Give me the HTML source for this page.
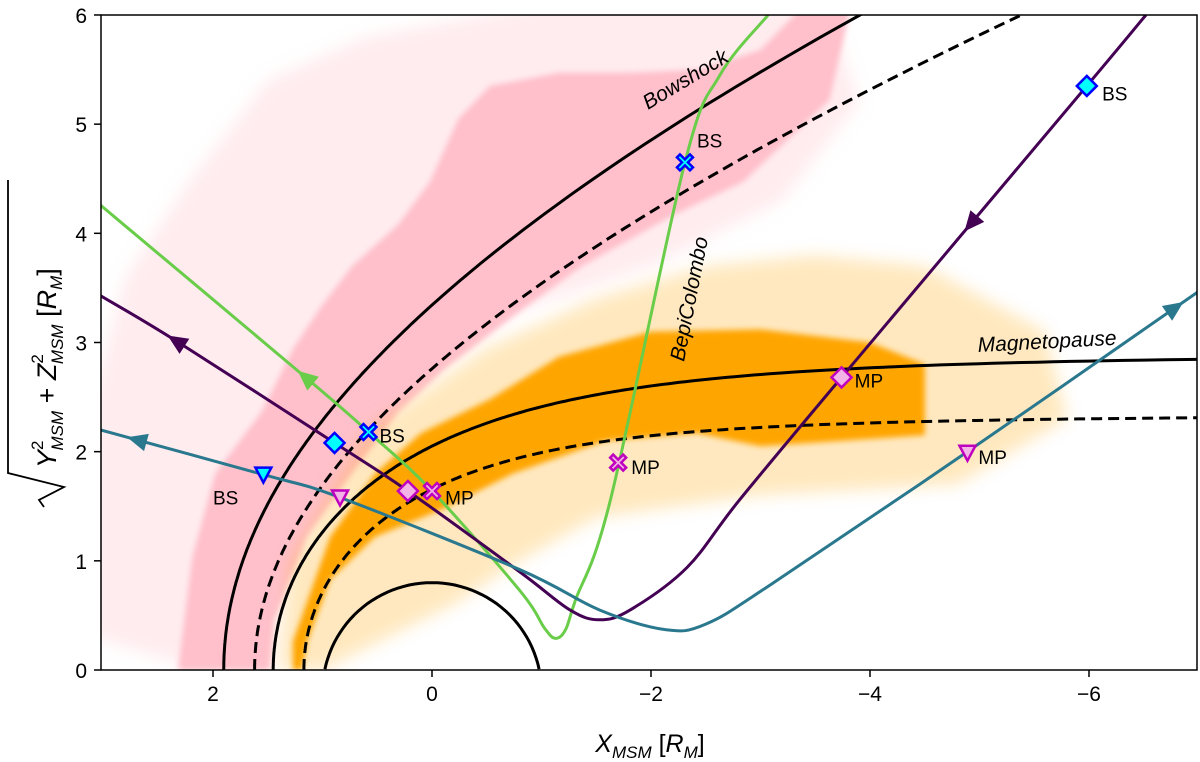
<!DOCTYPE html>
<html><head><meta charset="utf-8"><style>
html,body{margin:0;padding:0;background:#fff;}
svg{display:block;font-family:"Liberation Sans","DejaVu Sans",sans-serif;}
</style></head><body>
<svg id="chart" width="1200" height="762" viewBox="0 0 1200 762" xmlns="http://www.w3.org/2000/svg">
<defs>
<filter id="blur4" x="-10%" y="-10%" width="120%" height="120%"><feGaussianBlur stdDeviation="8"/></filter>
<filter id="blur2" x="-10%" y="-10%" width="120%" height="120%"><feGaussianBlur stdDeviation="3"/></filter>
<clipPath id="plotclip"><rect x="101" y="15" width="1096" height="655"/></clipPath>
</defs>
<g id="plot" clip-path="url(#plotclip)"></g>
<g id="axes"></g>
</svg>
<script>
// ---- data ----
const xTicks = [2, 0, -2, -4, -6];
const xTickLabels = ["2", "0", "\u22122", "\u22124", "\u22126"];
const yTicks = [0, 1, 2, 3, 4, 5, 6];
const yTickLabels = ["0", "1", "2", "3", "4", "5", "6"];
const bowshockSolidPE = 2.86;
const bowshockDashedPE = 2.285;
const bowshockFocus = 0.5;
const bowshockEcc = 1.04;
const mpSolidR0 = 1.45;
const mpDashedR0 = 1.17;
const pinkCloud = [[2.32,0],[2.19,1.03],[1.98,1.80],[1.56,2.36],[1.27,2.94],[1.02,3.32],[0.73,3.70],[0.31,4.08],[0.02,4.47],[-0.24,5.05],[-0.53,5.35],[-1.16,5.47],[-1.79,5.47],[-2.45,5.5],[-3.0,5.68],[-3.36,6.05],[-3.82,6.05],[-3.63,5.22],[-2.84,4.47],[-2.21,4.17],[-1.37,3.70],[-0.74,3.24],[-0.11,2.75],[0.31,2.36],[0.73,1.80],[1.14,1.22],[1.44,0.45],[1.48,0]];
const pinkHalo = [[2.1,0],[3.1,0.3],[3.1,2.5],[2.8,3.6],[2.2,4.5],[1.5,5.4],[0.6,5.8],[-1.0,6.1],[-3.6,6.1],[-3.9,5.2],[-3.2,4.3],[-2.0,3.7],[-0.8,3.3],[0.8,2.3],[1.4,1.0],[1.5,0]];
const orangeCore = [[1.27,0],[1.27,0.26],[0.93,1.22],[0.52,1.80],[0.10,2.17],[-0.53,2.48],[-1.16,2.87],[-2.0,3.10],[-3,3.12],[-4,3.0],[-4.5,2.8],[-4.5,2.15],[-3,2.05],[-2.42,2.17],[-1.58,2.10],[-0.74,1.80],[-0.11,1.48],[0.52,1.22],[0.93,0.83],[1.14,0.26],[1.19,0]];
const orangeHalo = [[1.4,0],[1.3,1.0],[0.6,2.2],[-0.5,2.95],[-1.5,3.4],[-2.5,3.7],[-3.5,3.8],[-4.5,3.7],[-5.6,3.1],[-5.8,2.3],[-4.8,1.7],[-3,1.6],[-1.5,1.4],[-0.8,1.0],[-0.2,0.6],[1.0,0]];
const greenTraj = [[3.03,4.26],[1.13,2.66],[0.58,2.18],[0,1.64],[-0.80,0.73],[-1.03,0.38],[-1.13,0.29],[-1.22,0.37],[-1.31,0.64],[-1.63,1.56],[-2.31,4.65],[-2.63,5.45],[-3.07,6.0]];
const purpleTraj = [[3.03,3.43],[2.33,3.01],[0.89,2.08],[0.22,1.64],[-0.80,0.90],[-1.26,0.55],[-1.53,0.46],[-1.81,0.55],[-2.33,0.94],[-2.81,1.56],[-3.74,2.68],[-5.98,5.35],[-6.52,6.0]];
const tealTraj = [[3.03,2.20],[1.54,1.79],[0.84,1.58],[-0.80,0.92],[-1.53,0.55],[-2.13,0.37],[-2.5,0.42],[-3.09,0.78],[-4.89,2.0],[-6.99,3.46]];
const bsMarkers = [[0.89,2.08,"diamond"],[-5.98,5.35,"diamond"],[0.58,2.18,"x"],[-2.31,4.65,"x"],[1.54,1.79,"tri"]];
const mpMarkers = [[0.22,1.64,"diamond"],[0,1.64,"x"],[-1.70,1.90,"x"],[-3.74,2.68,"diamond"],[0.84,1.58,"tri"],[-4.89,1.99,"tri"]];
const bsLabels = [[0.48,2.15],[-2.42,4.85],[-6.12,5.28],[2.0,1.58]];
const mpLabels = [[-0.12,1.58],[-1.82,1.86],[-3.86,2.65],[-4.99,1.95]];
// ---- scales ----
const X0px = 432, xs = 109.5, Y0px = 670, ys = 109.17;
const sx = v => X0px - v*xs;
const sy = v => Y0px - v*ys;
const NS = "http://www.w3.org/2000/svg";
const plot = document.getElementById('plot');
const axes = document.getElementById('axes');
function mk(tag, attrs, parent){const e=document.createElementNS(NS,tag);for(const k in attrs)e.setAttribute(k,attrs[k]);parent.appendChild(e);return e;}
const pts = arr => arr.map(p=>sx(p[0]).toFixed(1)+","+sy(p[1]).toFixed(1)).join(" ");

let e;
e = mk('polygon',{points:pts(pinkHalo),fill:'#ffc0cb','fill-opacity':0.3,filter:'url(#blur4)'},plot);
 
e = mk('polygon',{points:pts(pinkCloud),fill:'#ffc0cb',filter:'url(#blur2)'},plot);
 
e = mk('polygon',{points:pts(orangeHalo),fill:'#ffa500','fill-opacity':0.25,filter:'url(#blur4)'},plot);
 
e = mk('polygon',{points:pts(orangeCore),fill:'#ffa500',filter:'url(#blur2)'},plot);
 

{const a=[];for(let i=0;i<=60;i++){const t=Math.PI*i/60;const x=Math.cos(t),y=-0.2+Math.sin(t);if(y>=0)a.push([x,y]);}
e=mk('polyline',{points:pts(a),fill:'none',stroke:'#000','stroke-width':3},plot);
 }

function bowshock(pe){const a=[];for(let t=0;t<=2.6;t+=0.01){const r=pe/(1+bowshockEcc*Math.cos(t));a.push([bowshockFocus+r*Math.cos(t),r*Math.sin(t)]);}return a;}
function mp(r0){const a=[];for(let t=0;t<=3.05;t+=0.01){const r=r0*Math.sqrt(2/(1+Math.cos(t)));a.push([r*Math.cos(t),r*Math.sin(t)]);}return a;}
e=mk('polyline',{points:pts(bowshock(bowshockSolidPE)),fill:'none',stroke:'#000','stroke-width':3},plot);
 
e=mk('polyline',{points:pts(bowshock(bowshockDashedPE)),fill:'none',stroke:'#000','stroke-width':3,'stroke-dasharray':'11 6'},plot);
 
e=mk('polyline',{points:pts(mp(mpSolidR0)),fill:'none',stroke:'#000','stroke-width':3},plot);
 
e=mk('polyline',{points:pts(mp(mpDashedR0)),fill:'none',stroke:'#000','stroke-width':3,'stroke-dasharray':'11 6'},plot);
 

function smooth(arr){const P=arr.map(p=>[sx(p[0]),sy(p[1])]);let d="M"+P[0][0]+","+P[0][1];
for(let i=0;i<P.length-1;i++){const p0=P[Math.max(0,i-1)],p1=P[i],p2=P[i+1],p3=P[Math.min(P.length-1,i+2)];
const c1=[p1[0]+(p2[0]-p0[0])/6,p1[1]+(p2[1]-p0[1])/6],c2=[p2[0]-(p3[0]-p1[0])/6,p2[1]-(p3[1]-p1[1])/6];
d+=" C"+c1.join(",")+" "+c2.join(",")+" "+p2.join(",");}return d;}
function arrowAt(arr,i,f,toward,color,name){const a=[sx(arr[i][0]),sy(arr[i][1])],b=[sx(arr[i+1][0]),sy(arr[i+1][1])];
const c=[a[0]+(b[0]-a[0])*f,a[1]+(b[1]-a[1])*f];
let ang=toward>0?Math.atan2(b[1]-a[1],b[0]-a[0]):Math.atan2(a[1]-b[1],a[0]-b[0]);ang=ang*180/Math.PI;
const el=mk('polygon',{points:"11,0 -9,-9 -9,9",fill:color,transform:`translate(${c[0]},${c[1]}) rotate(${ang})`},plot);
 }
e=mk('path',{d:smooth(greenTraj),fill:'none',stroke:'#6acd4a','stroke-width':3},plot);
 
e=mk('path',{d:smooth(purpleTraj),fill:'none',stroke:'#440154','stroke-width':3},plot);
 
e=mk('path',{d:smooth(tealTraj),fill:'none',stroke:'#2a788e','stroke-width':3},plot);
 
arrowAt(greenTraj,0,0.99,-1,'#6acd4a','green-direction-arrow');
arrowAt(purpleTraj,1,0.0,-1,'#440154','purple-direction-arrow-left');
arrowAt(purpleTraj,10,0.53,-1,'#440154','purple-direction-arrow-right');
arrowAt(tealTraj,0,0.23,-1,'#2a788e','teal-direction-arrow-left');
arrowAt(tealTraj,8,0.9,1,'#2a788e','teal-direction-arrow-right');

function marker(m,fill,stroke,name){const x=sx(m[0]),y=sy(m[1]);let el;
if(m[2]==="diamond")el=mk('polygon',{points:`${x},${y-10} ${x+10},${y} ${x},${y+10} ${x-10},${y}`},plot);
else if(m[2]==="tri")el=mk('polygon',{points:`${x-8},${y-7} ${x+8},${y-7} ${x},${y+8}`},plot);
else el=mk('path',{d:`M${x-8},${y-5} L${x-5},${y-8} L${x},${y-3} L${x+5},${y-8} L${x+8},${y-5} L${x+3},${y} L${x+8},${y+5} L${x+5},${y+8} L${x},${y+3} L${x-5},${y+8} L${x-8},${y+5} L${x-3},${y} Z`},plot);
el.setAttribute('fill',fill);el.setAttribute('stroke',stroke);el.setAttribute('stroke-width',2.5);
 }
bsMarkers.forEach(m=>marker(m,'#00ffff','#0000ff','bowshock-crossing-marker'));
mpMarkers.forEach(m=>marker(m,'#f4b3e6','#bf00bf','magnetopause-crossing-marker'));
function label(p,txt,name){const t=mk('text',{x:sx(p[0]),y:sy(p[1])+7,'font-size':19,fill:'#000'},plot);t.textContent=txt;
 }
bsLabels.forEach(p=>label(p,'BS','bs-label'));
mpLabels.forEach(p=>label(p,'MP','mp-label'));
</script>
<script>
(function(){
const NS="http://www.w3.org/2000/svg";const plot=document.getElementById('plot');const axes=document.getElementById('axes');
function mk(tag,a,p){const e=document.createElementNS(NS,tag);for(const k in a)e.setAttribute(k,a[k]);p.appendChild(e);return e;}
let t;
t=mk('text',{x:0,y:0,'font-size':21,'font-style':'italic',transform:'translate(648,110) rotate(-31)'},plot);t.textContent='Bowshock';

t=mk('text',{x:0,y:0,'font-size':21,'font-style':'italic',transform:'translate(684,362) rotate(-79)'},plot);t.textContent='BepiColombo';

t=mk('text',{x:0,y:0,'font-size':21,'font-style':'italic',transform:'translate(978,352) rotate(-3)'},plot);t.textContent='Magnetopause';

let r=mk('rect',{x:101,y:15,width:1096,height:655,fill:'none',stroke:'#000','stroke-width':1.5},axes);

xTicks.forEach((v,i)=>{const x=sx(v);let l=mk('line',{x1:x,x2:x,y1:670,y2:677,stroke:'#000','stroke-width':1.5},axes);

let tt=mk('text',{x:x,y:701,'font-size':21,'text-anchor':'middle'},axes);tt.textContent=xTickLabels[i];
});
yTicks.forEach((v,i)=>{const y=sy(v);let l=mk('line',{x1:94,x2:101,y1:y,y2:y,stroke:'#000','stroke-width':1.5},axes);

let tt=mk('text',{x:87,y:y+8,'font-size':21,'text-anchor':'end'},axes);tt.textContent=yTickLabels[i];
});
let xl=mk('text',{x:650,y:752,'font-size':25,'text-anchor':'middle'},axes);
xl.innerHTML='<tspan font-style="italic">X</tspan><tspan font-style="italic" font-size="17" dy="6">MSM</tspan><tspan dy="-6"> [</tspan><tspan font-style="italic">R</tspan><tspan font-style="italic" font-size="17" dy="6">M</tspan><tspan dy="-6">]</tspan>';

let g=mk('g',{transform:'translate(46,335) rotate(-90)'},axes);

mk('path',{d:'M-172,-2 L-165,-7 L-152,18 L-138,-38 L155,-38',fill:'none',stroke:'#000','stroke-width':1.8},g);
let yl=mk('text',{x:-133,y:10,'font-size':27},g);
yl.innerHTML='<tspan font-style="italic">Y</tspan><tspan font-size="17" dy="-13">2</tspan><tspan font-style="italic" font-size="17" dx="-10" dy="20">MSM</tspan><tspan dy="-7"> + </tspan><tspan font-style="italic">Z</tspan><tspan font-size="17" dy="-13">2</tspan><tspan font-style="italic" font-size="17" dx="-10" dy="20">MSM</tspan><tspan dy="-7">  [</tspan><tspan font-style="italic">R</tspan><tspan font-style="italic" font-size="17" dy="6">M</tspan><tspan dy="-6">]</tspan>';
})();
</script>
</body></html>
